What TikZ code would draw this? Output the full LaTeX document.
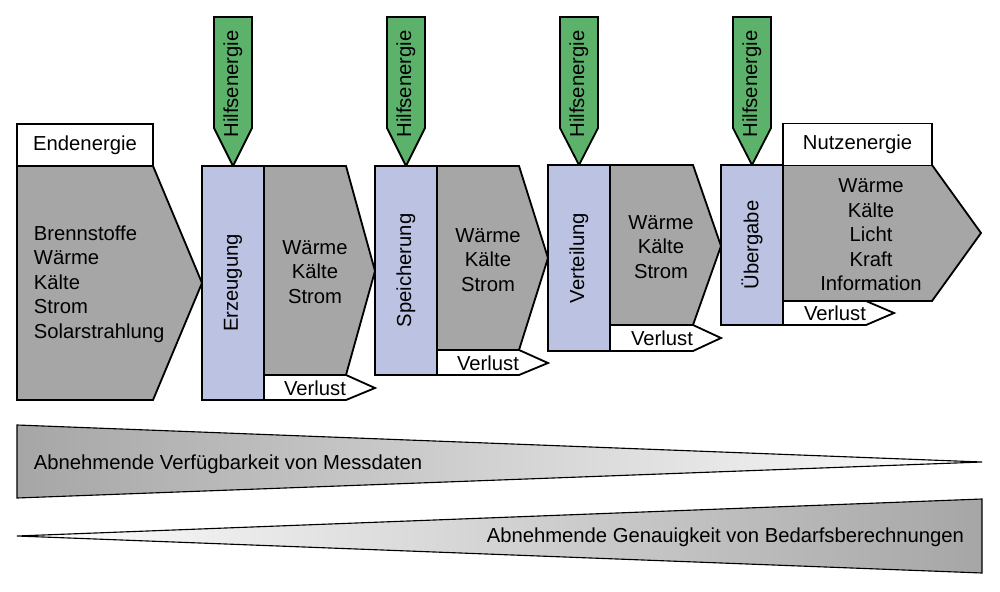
\documentclass[tikz,border=0pt]{standalone}
\usepackage{fontspec}
\setmainfont{Liberation Sans}
\definecolor{stufe}{RGB}{188,194,226}
\definecolor{hilfe}{RGB}{92,178,107}
\definecolor{fluss}{RGB}{166,166,166}

\begin{document}
\begin{tikzpicture}[x=0.025cm, y=-0.025cm, line width=1.3pt,
		txt/.style={font=\fontsize{14.4}{17.4}\selectfont, align=center, inner sep=0pt},
		stufe/.style={draw, fill=stufe, rotate=90, minimum height=1.55cm, inner sep=0pt, font=\fontsize{14.4}{16}\selectfont},
		kopf/.style={draw, fill=white, minimum height=1.05cm, inner sep=0pt, font=\fontsize{14.4}{16}\selectfont},
		grau/.style={draw, fill=fluss},
		hilf/.style={draw, fill=hilfe},
		keil/.style={draw, line width=0.8pt}]
		\useasboundingbox (0,0) rectangle (1000,592);

		\filldraw[grau] (17,166) -- (153,166) -- (202,283) -- (153,400) -- (17,400) -- cycle;
		\filldraw[grau] (264,166) -- (346,166) -- (375,271) -- (346,375) -- (264,375) -- cycle;
		\filldraw[grau] (437,166) -- (519,166) -- (548,258) -- (519,350) -- (437,350) -- cycle;
		\filldraw[grau] (610,165) -- (693,165) -- (721,246) -- (693,325) -- (610,325) -- cycle;
		\filldraw[grau] (783,165) -- (932,165) -- (981,233) -- (932,301) -- (783,301) -- cycle;

		\filldraw[fill=white] (264,375) -- (346,375) -- (375,388) -- (346,400) -- (264,400) -- cycle;
		\filldraw[fill=white] (437,350) -- (519,350) -- (548,363) -- (519,375) -- (437,375) -- cycle;
		\filldraw[fill=white] (610,325) -- (693,325) -- (721,338) -- (693,351) -- (610,351) -- cycle;
		\filldraw[fill=white] (783,301) -- (866,301) -- (894,313) -- (866,325) -- (783,325) -- cycle;

		\filldraw[hilf] (214,17) -- (252,17) -- (252,128) -- (233,166) -- (214,128) -- cycle;
		\filldraw[hilf] (387,17) -- (425,17) -- (425,128) -- (406,166) -- (387,128) -- cycle;
		\filldraw[hilf] (560,17) -- (598,17) -- (598,128) -- (579,165) -- (560,128) -- cycle;
		\filldraw[hilf] (733,17) -- (771,17) -- (771,128) -- (752,165) -- (733,128) -- cycle;

		\draw (233,84) node[txt, rotate=90] (h1) {Hilfsenergie};
		\draw (406,84) node[txt, rotate=90] (h2) {Hilfsenergie};
		\draw (579,84) node[txt, rotate=90] (h3) {Hilfsenergie};
		\draw (752,84) node[txt, rotate=90] (h4) {Hilfsenergie};

		\draw (85,145) node[kopf, minimum width=3.4cm] (end) {Endenergie};
		\draw (857.5,144.5) node[kopf, minimum width=3.725cm] (nutz) {Nutzenergie};

		\draw (233,283) node[stufe, minimum width=5.85cm] (erz) {Erzeugung};
		\draw (406,270.5) node[stufe, minimum width=5.225cm] (spei) {Speicherung};
		\draw (579,258) node[stufe, minimum width=4.65cm] (vert) {Verteilung};
		\draw (752,245) node[stufe, minimum width=4cm] (ueb) {Übergabe};

		\draw (33,284) node[txt, anchor=west, align=left] (e0) {Brennstoffe\\Wärme\\Kälte\\Strom\\Solarstrahlung};
		\draw (315,272) node[txt] (e1) {Wärme\\Kälte\\Strom};
		\draw (488,260) node[txt] (e2) {Wärme\\Kälte\\Strom};
		\draw (661,247) node[txt] (e3) {Wärme\\Kälte\\Strom};
		\draw (871,235) node[txt] (e4) {Wärme\\Kälte\\Licht\\Kraft\\Information};

		\draw (315,388) node[txt] (v1) {Verlust};
		\draw (488,363) node[txt] (v2) {Verlust};
		\draw (662,338) node[txt] (v3) {Verlust};
		\draw (835,313) node[txt] (v4) {Verlust};

		\draw[keil, left color=fluss, right color=white] (17,425) -- (982,462) -- (17,498) -- cycle;
		\draw[keil, left color=white, right color=fluss] (17,536) -- (982,499) -- (982,573) -- cycle;
		\draw (33,464) node[txt, anchor=west] (mess) {Abnehmende Verfügbarkeit von Messdaten};
		\draw (965,537) node[txt, anchor=east] (bedarf) {Abnehmende Genauigkeit von Bedarfsberechnungen};
	\end{tikzpicture}
\end{document}
